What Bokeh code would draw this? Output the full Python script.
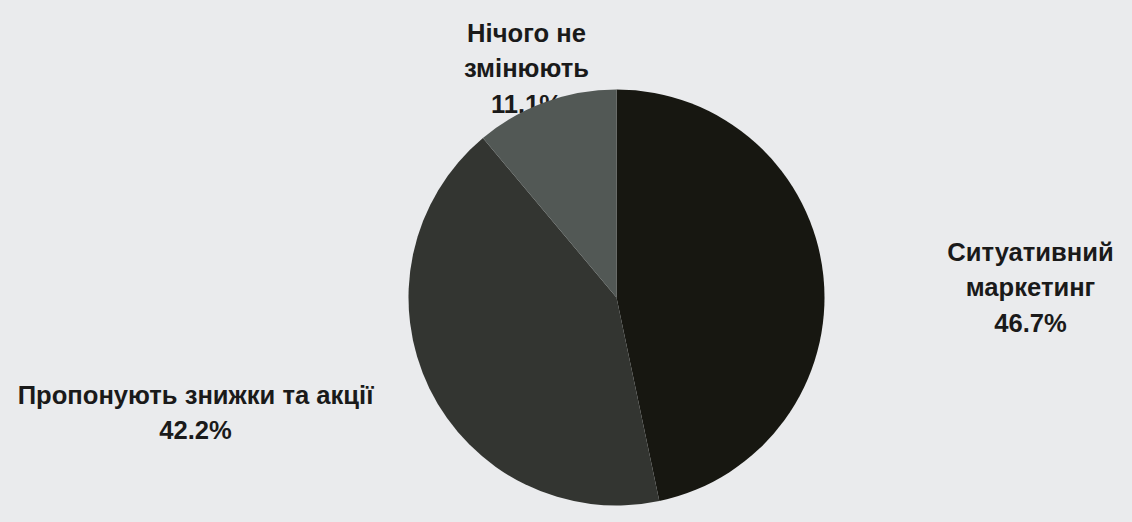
import math
from bokeh.plotting import figure
from bokeh.models import ColumnDataSource, Range1d
from bokeh.core.properties import value
from bokeh.embed import file_html
from bokeh.resources import INLINE

# ---- data ----
categories = ["Ситуативний маркетинг", "Пропонують знижки та акції", "Нічого не змінюють"]
label_lines = ["Ситуативний\nмаркетинг", "Пропонують знижки та акції", "Нічого не\nзмінюють"]
values = [46.7, 42.2, 11.1]
colors = ["#171711", "#333531", "#525855"]

# ---- layout ----
W, H = 1132, 522
BG = "#EAEBED"
cx, cy, R = 616, 225, 208
# label anchor positions (page layout for text, in pixel coordinates of the plot)
label_pos = [(1030, 235), (195, 110), (526, 454)]

total = sum(values)
starts, ends = [], []
acc = 0.0
for v in values:
    a0 = math.pi / 2 - 2 * math.pi * acc / total
    acc += v
    a1 = math.pi / 2 - 2 * math.pi * acc / total
    starts.append(a0)
    ends.append(a1)

texts = [f"{l}\n{v:.1f}%" for l, v in zip(label_lines, values)]

src = ColumnDataSource(dict(cat=categories, val=values, start=starts, end=ends, color=colors))

p = figure(width=W, height=H, output_backend="svg", toolbar_location=None,
           x_range=Range1d(0, W), y_range=Range1d(0, H),
           background_fill_color=BG, border_fill_color=BG,
           min_border=0, outline_line_color=None)
p.axis.visible = False
p.grid.visible = False

def add_label(i):
    x, y = label_pos[i]
    p.text(x=[x], y=[y], text=[texts[i]], text_align="center", text_baseline="middle",
           text_font=value("Liberation Sans"), text_font_style="bold",
           text_font_size="25.6px", text_color="#1a1a1a", text_line_height=1.27)

# label of the small slice lies under the pie
add_label(2)

p.wedge(x=cx, y=cy, radius=R, start_angle="start", end_angle="end", direction="clock",
        fill_color="color", line_color=None, source=src)

add_label(0)
add_label(1)

html = file_html(p, INLINE)
html = html.replace("<head>", "<head><style>html,body{background:%s;margin:0;padding:0;overflow:hidden;}</style>" % BG, 1)
open("out.html", "w").write(html)
